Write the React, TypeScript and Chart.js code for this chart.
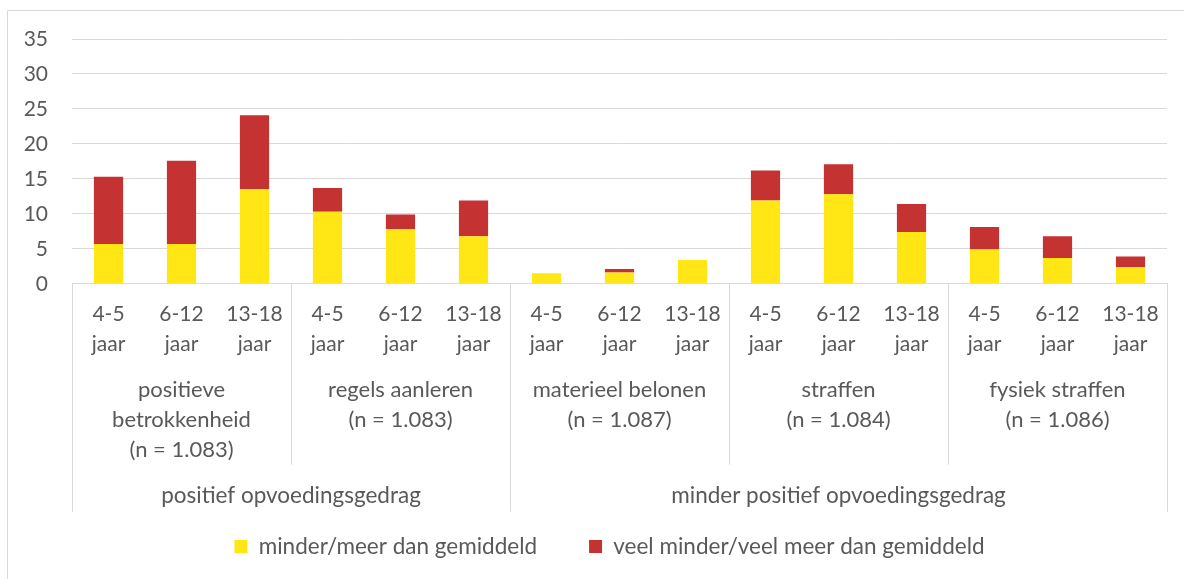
import { useEffect, useRef } from "react";
import { Chart, registerables } from "chart.js";

Chart.register(...registerables);

const ageLabels = ["4-5 jaar", "6-12 jaar", "13-18 jaar"];
const behaviourLabels = [
  ["positieve", "betrokkenheid", "(n = 1.083)"],
  ["regels aanleren", "(n = 1.083)"],
  ["materieel belonen", "(n = 1.087)"],
  ["straffen", "(n = 1.084)"],
  ["fysiek straffen", "(n = 1.086)"],
];
const domainLabels = ["positief opvoedingsgedrag", "minder positief opvoedingsgedrag"];
const domainGroupCounts = [2, 3];

const seriesNames = ["minder/meer dan gemiddeld", "veel minder/veel meer dan gemiddeld"];
const middleValues = [5.7, 5.7, 13.5, 10.3, 7.8, 6.8, 1.5, 1.6, 3.4, 11.9, 12.8, 7.4, 4.9, 3.7, 2.4];
const strongValues = [9.6, 11.9, 10.6, 3.4, 2.1, 5.1, 0, 0.5, 0, 4.3, 4.3, 4.0, 3.2, 3.1, 1.5];

const yTicks = { min: 0, max: 35, step: 5 };

const FONT = "Lato, 'Open Sans', sans-serif";
const TEXT = "#595959";
const LINE = "#d9d9d9";

export default function App() {
  const ref = useRef<HTMLCanvasElement | null>(null);

  useEffect(() => {
    if (!ref.current) return;
    const categories: string[][] = [];
    behaviourLabels.forEach(() => ageLabels.forEach((a) => categories.push(a.split(" "))));

    const groupPlugin = {
      id: "groups",
      afterLayout(chart: any) {
        const lg = chart.legend;
        if (lg) {
          lg.left -= 10;
          lg.right -= 10;
        }
      },
      beforeDraw(chart: any) {
        const ctx = chart.ctx;
        ctx.save();
        ctx.strokeStyle = LINE;
        ctx.lineWidth = 1;
        ctx.beginPath();
        ctx.moveTo(7.5, chart.height);
        ctx.lineTo(7.5, 10.5);
        ctx.lineTo(chart.width, 10.5);
        ctx.stroke();
        ctx.restore();
      },
      afterDraw(chart: any) {
        const ctx = chart.ctx;
        const xs = chart.scales.x;
        const bottom = chart.chartArea.bottom;
        const w = xs.getPixelForValue(1) - xs.getPixelForValue(0);
        const edge = (i: number) => xs.getPixelForValue(i) - w / 2;
        ctx.save();
        ctx.strokeStyle = LINE;
        ctx.lineWidth = 1;
        ctx.fillStyle = TEXT;
        ctx.textAlign = "center";
        ctx.textBaseline = "middle";
        const per = ageLabels.length;
        ctx.font = `22px ${FONT}`;
        behaviourLabels.forEach((lines, g) => {
          const x0 = edge(g * per);
          const x1 = edge((g + 1) * per);
          lines.forEach((t, k) => ctx.fillText(t, (x0 + x1) / 2, bottom + 106 + k * 30));
        });
        for (let g = 0; g <= behaviourLabels.length; g++) {
          const x = Math.round(edge(g * per)) + 0.5;
          ctx.beginPath();
          ctx.moveTo(x, bottom);
          ctx.lineTo(x, bottom + 181);
          ctx.stroke();
        }
        ctx.font = `22.5px ${FONT}`;
        let start = 0;
        const bounds = [0];
        domainLabels.forEach((t, d) => {
          const end = start + domainGroupCounts[d];
          const x0 = edge(start * per);
          const x1 = edge(end * per);
          ctx.fillText(t, (x0 + x1) / 2, bottom + 212);
          start = end;
          bounds.push(end);
        });
        bounds.forEach((b) => {
          const x = Math.round(edge(b * per)) + 0.5;
          ctx.beginPath();
          ctx.moveTo(x, bottom);
          ctx.lineTo(x, bottom + 228);
          ctx.stroke();
        });
        ctx.restore();
      },
    };

    const chart = new Chart(ref.current, {
      type: "bar",
      data: {
        labels: categories,
        datasets: [
          { label: seriesNames[0], data: middleValues, backgroundColor: "#FFE614", borderWidth: 0 },
          { label: seriesNames[1], data: strongValues, backgroundColor: "#C53232", borderWidth: 0 },
        ],
      },
      options: {
        animation: false,
        responsive: true,
        maintainAspectRatio: false,
        layout: { padding: { left: 0, right: 17, top: 39, bottom: 11.25 } },
        datasets: { bar: { barPercentage: 0.4, categoryPercentage: 1 } },
        plugins: {
          tooltip: { enabled: false },
          legend: {
            position: "bottom",
            fullSize: false,
            labels: {
              boxWidth: 13,
              boxHeight: 13,
              padding: 52,
              color: TEXT,
              font: { family: FONT, size: 22.5 },
            },
          },
        },
        scales: {
          x: {
            stacked: true,
            grid: { display: false, drawTicks: false },
            border: { display: true, color: LINE },
            ticks: {
              color: TEXT,
              font: { family: FONT, size: 21, lineHeight: "30px" },
              padding: 15,
              maxRotation: 0,
              autoSkip: false,
            },
            afterFit: (s: any) => { s.height = 199.5; },
          },
          y: {
            stacked: true,
            min: yTicks.min,
            max: yTicks.max,
            grid: { color: LINE, drawTicks: false },
            border: { display: false },
            ticks: {
              stepSize: yTicks.step,
              color: TEXT,
              font: { family: FONT, size: 21 },
              padding: 24,
            },
            afterFit: (s: any) => { s.width = 72; },
          },
        },
      },
      plugins: [groupPlugin],
    });
    return () => chart.destroy();
  }, []);

  return (
    <div style={{ position: "absolute", left: 0, top: 0, width: 1184, height: 579, background: "#fff" }}>
      <canvas ref={ref} />
    </div>
  );
}
